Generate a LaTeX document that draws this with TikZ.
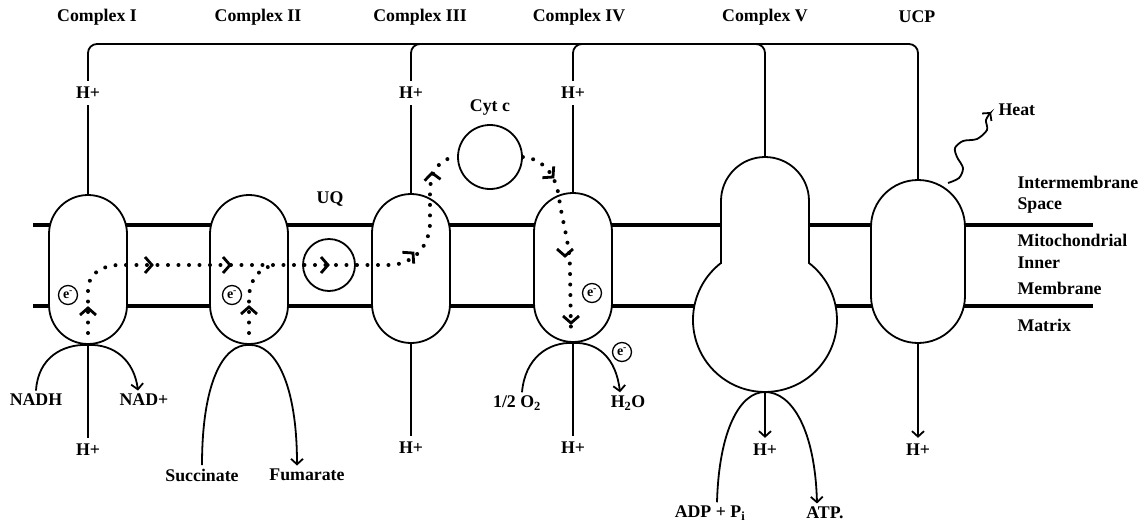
\documentclass[tikz,border=0pt]{standalone}
\usepackage{fontspec}
\setmainfont{Liberation Serif}
\usetikzlibrary{arrows.meta,calc}
\begin{document}
\begin{tikzpicture}[x=1pt,y=-1pt,
  every node/.style={font=\bfseries\fontsize{17.8}{20}\selectfont},
  conn/.style={line width=1.8pt},
  arr/.style={line width=1.8pt,-{Straight Barb[length=5.5pt,width=12pt,line width=1.8pt]}},
  mem/.style={line width=3.2pt},
  capsule/.style={draw,line width=1.8pt,fill=white,rectangle,inner sep=0pt},
  ball/.style={draw,circle,line width=1.8pt,inner sep=0pt},
  dotline/.style={line width=4pt,line cap=round,dash pattern=on 0pt off 10.5pt},
  chevline/.style={line width=2.8pt,line cap=butt,line join=miter},
  eminus/.style={draw,circle,line width=1.3pt,fill=white,inner sep=0pt,minimum size=19pt,font=\bfseries\fontsize{14}{15}\selectfont},
  hlab/.style={outer sep=3pt},
  side/.style={anchor=west},
  chev/.pic={\draw[chevline] (-7,8) -- (0,0) -- (-7,-8);}
]
\useasboundingbox (0,0) rectangle (1146,528);

% membrane
\draw[mem] (33,225) -- (1093,225);
\draw[mem] (33,306) -- (1093,306);

% complexes
\node[capsule,minimum width=78pt,minimum height=149pt,rounded corners=39pt] (c1) at (88,269.5) {};
\node[capsule,minimum width=78pt,minimum height=149pt,rounded corners=39pt] (c2) at (249,269.5) {};
\node[capsule,minimum width=78pt,minimum height=149pt,rounded corners=39pt] (c3) at (411,268.5) {};
\node[capsule,minimum width=78pt,minimum height=149pt,rounded corners=39pt] (c4) at (573,267.5) {};
\node[capsule,minimum width=94pt,minimum height=163pt,rounded corners=47pt] (ucp) at (918,261.5) {};
\draw[conn,fill=white] (721,263) -- (721,201) arc[start angle=180,end angle=0,radius=44pt] -- (809,263)
  arc[start angle=52.3,end angle=-232.3,radius=72pt] -- cycle;
\coordinate (c5t) at (765,157);
\coordinate (c5b) at (765,392);

\node[ball,minimum size=52pt] (uq) at (329,265) {};
\node[ball,minimum size=64pt] (cytc) at (490,157) {};

% titles
\node at (97,17) {Complex I};
\node at (258,17) {Complex II};
\node at (420,17) {Complex III};
\node at (579,17) {Complex IV};
\node at (765,17) {Complex V};
\node at (917,17) {UCP};
\node at (330,199) {UQ};
\node at (490,108) {Cyt c};

% top proton lines
\node[hlab] (h1) at (88,93) {H+};
\node[hlab] (h3) at (411,93) {H+};
\node[hlab] (h4) at (573,93) {H+};
\coordinate (bar) at (0,44);
\coordinate (j3) at (445,44);
\coordinate (j4) at (607,44);
\coordinate (j5) at (735,44);
\draw[conn,rounded corners=9pt] (h1.north) |- (bar -| ucp.north) -- (ucp.north);
\draw[conn,rounded corners=9pt] (h3.north) |- (j3);
\draw[conn,rounded corners=9pt] (h4.north) |- (j4);
\draw[conn,rounded corners=9pt] (c5t) |- (j5);
\draw[conn] (h1.south) -- (c1.north);
\draw[conn] (h3.south) -- (c3.north);
\draw[conn] (h4.south) -- (c4.north);

% bottom proton lines
\node[hlab] (b1) at (88,450) {H+};
\node[hlab] (b3) at (411,448) {H+};
\node[hlab] (b4) at (573,448) {H+};
\node[hlab] (b5) at (765,450) {H+};
\node[hlab] (b6) at (918,450) {H+};
\draw[conn] (c1.south) -- (b1.north);
\draw[conn] (c3.south) -- (b3.north);
\draw[conn] (c4.south) -- (b4.north);
\draw[arr] (c5b) -- (b5.north);
\draw[arr] (ucp.south) -- (b6.north);

% substrates
\node (nadh) at (36,400) {NADH};
\node (nad) at (144,400) {NAD+};
\draw[arr] (nadh.north) .. controls (38,358) and (62,344) .. (c1.south) .. controls (114,344) and (134,360) .. ($(nad.north)+(-6,0)$);
\node (succ) at (202,475) {Succinate};
\node (fum) at (307,475) {Fumarate};
\draw[arr] (succ.north) .. controls (202,385) and (222,344) .. (c2.south) .. controls (276,344) and (297,385) .. ($(fum.north)+(-10,0)$);
\node (o2) at (517,403) {1/2 O\textsubscript{2}};
\node (h2o) at (628,403) {H\textsubscript{2}O};
\draw[arr] ($(o2.north)+(5,0)$) .. controls (525,358) and (548,342) .. (c4.south) .. controls (598,342) and (616,358) .. ($(h2o.north)+(-8,0)$);
\node (adp) at (710,513) {ADP + P\textsubscript{i}};
\node (atp) at (825,513) {ATP.};
\draw[arr] ($(adp.north)+(7,0)$) .. controls (719,430) and (740,392) .. (c5b) .. controls (792,392) and (815,430) .. ($(atp.north)+(-8,0)$);

% heat
\node[anchor=west] (heat) at (995,110) {Heat};
\draw[arr] plot[smooth] coordinates {(948,183) (959,178) (963,168) (957,157) (955,148) (963,141) (977,139) (987,130) (986,120) (991,112)};

% side labels
\node[side] at (1014,182) {Intermembrane};
\node[side] at (1014,205) {Space};
\node[side] at (1014,240) {Mitochondrial};
\node[side] at (1014,263) {Inner};
\node[side] at (1014,288) {Membrane};
\node[side] at (1014,325) {Matrix};

% electron path
\draw[dotline] (88,333) -- (88,290) .. controls (88,275) and (100,266) .. (118,265) -- (390,265)
  .. controls (415,264) and (430,245) .. (430,222) -- (430,190) .. controls (431,170) and (440,158) .. (cytc.west);
\draw[dotline] (249,333) -- (249,297) .. controls (250,280) and (258,268) .. (275,265);
\draw[dotline] (cytc.east) .. controls (540,158) and (556,172) .. (559,198) .. controls (563,225) and (570,245) .. (570,270) -- (571,333);

\pic[rotate=90] at (88,308) {chev};
\pic at (152,265) {chev};
\pic at (230,265) {chev};
\pic at (328,265) {chev};
\pic[rotate=90] at (249,307) {chev};
\pic[rotate=45] at (413,253) {chev};
\pic[rotate=95] at (432,173) {chev};
\pic[rotate=-45] at (553,177) {chev};
\pic[rotate=-90] at (565,256) {chev};
\pic[rotate=-90] at (571,323) {chev};

\node[eminus] (e1) at (68,295) {e\textsuperscript{-}};
\node[eminus] (e2) at (232,295) {e\textsuperscript{-}};
\node[eminus] (e3) at (592,293) {e\textsuperscript{-}};
\node[eminus] (e4) at (622,352) {e\textsuperscript{-}};
\end{tikzpicture}
\end{document}
